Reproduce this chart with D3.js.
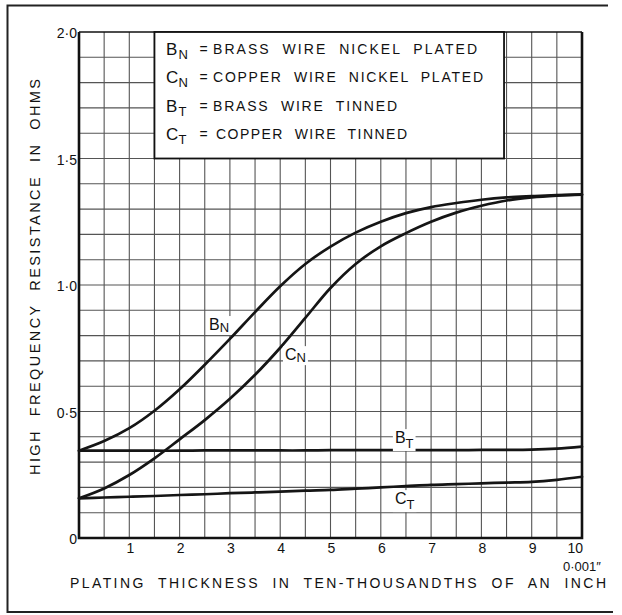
<!DOCTYPE html>
<html>
<head>
<meta charset="utf-8">
<script src="https://cdn.jsdelivr.net/npm/d3@7"></script>
<style>
body { margin: 0; background: #fff; }
text { font-family: "Liberation Sans", Arial, sans-serif; fill: #111; }
</style>
</head>
<body>
<svg id="chart" width="622" height="615"></svg>
<script>
// plating thickness, ten-thousandths of an inch
var thickness = [0, 0.5, 1, 1.5, 2, 2.5, 3, 3.5, 4, 4.5, 5, 5.5, 6, 6.5, 7, 7.5, 8, 8.5, 9, 9.5, 10];
// high frequency resistance, ohms
var brassNickel  = [0.345, 0.383, 0.434, 0.503, 0.588, 0.685, 0.787, 0.893, 0.995, 1.083, 1.152, 1.207, 1.25, 1.284, 1.308, 1.324, 1.337, 1.346, 1.351, 1.355, 1.358];
var copperNickel = [0.157, 0.196, 0.249, 0.315, 0.39, 0.466, 0.55, 0.645, 0.752, 0.87, 0.988, 1.083, 1.153, 1.205, 1.25, 1.286, 1.313, 1.334, 1.346, 1.353, 1.357];
var brassTinned  = [0.345, 0.345, 0.345, 0.345, 0.345, 0.346, 0.346, 0.346, 0.346, 0.346, 0.347, 0.347, 0.347, 0.347, 0.347, 0.347, 0.348, 0.348, 0.349, 0.353, 0.361];
var copperTinned = [0.157, 0.16, 0.163, 0.166, 0.17, 0.173, 0.177, 0.18, 0.183, 0.187, 0.19, 0.195, 0.2, 0.205, 0.21, 0.213, 0.216, 0.219, 0.222, 0.23, 0.242];

var xTicks = [1, 2, 3, 4, 5, 6, 7, 8, 9, 10];
var yTicks = [0, 0.5, 1, 1.5, 2];

var legendLetters = ["B", "C", "B", "C"];
var legendSubs = ["N", "N", "T", "T"];
var legendTexts = ["BRASS  WIRE  NICKEL  PLATED", "COPPER  WIRE  NICKEL  PLATED", "BRASS  WIRE  TINNED", "COPPER  WIRE  TINNED"];
var legendEnds = [477, 483, 397, 407];

var curveLabels = [
    {big: "B", sub: "N", x: 2.585, y: 0.822},
    {big: "C", sub: "N", x: 4.095, y: 0.703},
    {big: "B", sub: "T", x: 6.28, y: 0.375},
    {big: "C", sub: "T", x: 6.28, y: 0.134}
];

var svg = d3.select("#chart");
var x = d3.scaleLinear().domain([0, 10]).range([79, 582]);
var y = d3.scaleLinear().domain([0, 2]).range([538, 32]);

// outer frame (right side faded in the print)
svg.append("path")
    .attr("d", "M608,5.5H7.5V612H613")
    .attr("fill", "none").attr("stroke", "#222").attr("stroke-width", 2);

// grid
var g = svg.append("g");
g.selectAll("line.v").data(d3.range(0.5, 10, 0.5)).enter().append("line")
    .attr("class", "v")
    .attr("x1", function(d) { return x(d); }).attr("x2", function(d) { return x(d); })
    .attr("y1", y(0)).attr("y2", y(2))
    .attr("stroke", "#555").attr("stroke-width", 1.1);
g.selectAll("line.h").data(d3.range(1, 20).map(function(i) { return i / 10; })).enter().append("line")
    .attr("class", "h")
    .attr("y1", function(d) { return y(d); }).attr("y2", function(d) { return y(d); })
    .attr("x1", x(0)).attr("x2", x(10))
    .attr("stroke", "#555").attr("stroke-width", 1.1);

// plot border
svg.append("line").attr("x1", x(0)).attr("x2", x(10)).attr("y1", y(2)).attr("y2", y(2))
    .attr("stroke", "#111").attr("stroke-width", 1.6);
svg.append("path")
    .attr("d", "M" + x(0) + "," + y(2) + "V" + y(0) + "H" + x(10) + "V" + y(2))
    .attr("fill", "none").attr("stroke", "#111").attr("stroke-width", 2.6);

// curves
var line = d3.line()
    .x(function(d) { return x(d[0]); })
    .y(function(d) { return y(d[1]); })
    .curve(d3.curveCatmullRom.alpha(0.5));
[brassNickel, copperNickel, brassTinned, copperTinned].forEach(function(s) {
    svg.append("path")
        .datum(thickness.map(function(t, i) { return [t, s[i]]; }))
        .attr("d", line)
        .attr("fill", "none").attr("stroke", "#151515").attr("stroke-width", 2.7)
        .attr("stroke-linecap", "round");
});

// curve labels with white backing
curveLabels.forEach(function(l) {
    var lg = svg.append("g");
    var t = lg.append("text").attr("x", x(l.x)).attr("y", y(l.y)).style("font-size", "16px");
    t.append("tspan").text(l.big);
    t.append("tspan").attr("dy", l.sub === "T" ? 5 : 2).style("font-size", "13px").text(l.sub);
    var b = t.node().getBBox();
    lg.insert("rect", "text").attr("x", b.x - 2).attr("y", b.y).attr("width", b.width + 4).attr("height", b.height)
        .attr("fill", "#fff");
});

// legend box
svg.append("rect")
    .attr("x", x(1.5)).attr("y", y(2)).attr("width", x(8.45) - x(1.5)).attr("height", y(1.5) - y(2))
    .attr("fill", "#fff").attr("stroke", "#111").attr("stroke-width", 1.8);
legendTexts.forEach(function(txt, i) {
    var by = y(2) + 23 + i * 28.4;
    var start = i === 3 ? 216 : 213;
    svg.append("text").attr("x", 166).attr("y", by).style("font-size", "17px").text(legendLetters[i]);
    svg.append("text").attr("x", 178.5).attr("y", by + 4).style("font-size", "13px").text(legendSubs[i]);
    svg.append("text").attr("x", 199.5).attr("y", by - 1).style("font-size", "14px").text("=");
    svg.append("text").attr("x", start).attr("y", by - 1)
        .style("font-size", "14px").style("white-space", "pre")
        .attr("textLength", legendEnds[i] - start).attr("lengthAdjust", "spacing")
        .text(txt);
});

// y tick labels
svg.selectAll("text.yt").data(yTicks).enter().append("text")
    .attr("class", "yt")
    .attr("x", 77).attr("y", function(d) { return y(d) + 6; })
    .attr("text-anchor", "end").style("font-size", "14px")
    .text(function(d) { return d === 0 ? "0" : d.toFixed(1).replace(".", "\u00b7"); });

// x tick labels
svg.selectAll("text.xt").data(xTicks).enter().append("text")
    .attr("class", "xt")
    .attr("x", function(d) { return x(d) + 1; })
    .attr("y", 553)
    .attr("text-anchor", function(d) { return d === 10 ? "end" : "middle"; })
    .style("font-size", "14px")
    .text(function(d) { return d; });
svg.append("text").attr("x", 563).attr("y", 571).style("font-size", "13px").text("0\u00b7001\u2033");

// axis titles
svg.append("text").attr("x", 70).attr("y", 588)
    .style("font-size", "14px").style("white-space", "pre")
    .attr("textLength", 536).attr("lengthAdjust", "spacing")
    .text("PLATING  THICKNESS  IN  TEN-THOUSANDTHS  OF  AN  INCH");
svg.append("text")
    .attr("transform", "translate(40,277) rotate(-90)")
    .attr("text-anchor", "middle")
    .style("font-size", "14.5px").style("white-space", "pre")
    .attr("textLength", 396).attr("lengthAdjust", "spacing")
    .text("HIGH  FREQUENCY  RESISTANCE  IN  OHMS");
</script>
</body>
</html>
